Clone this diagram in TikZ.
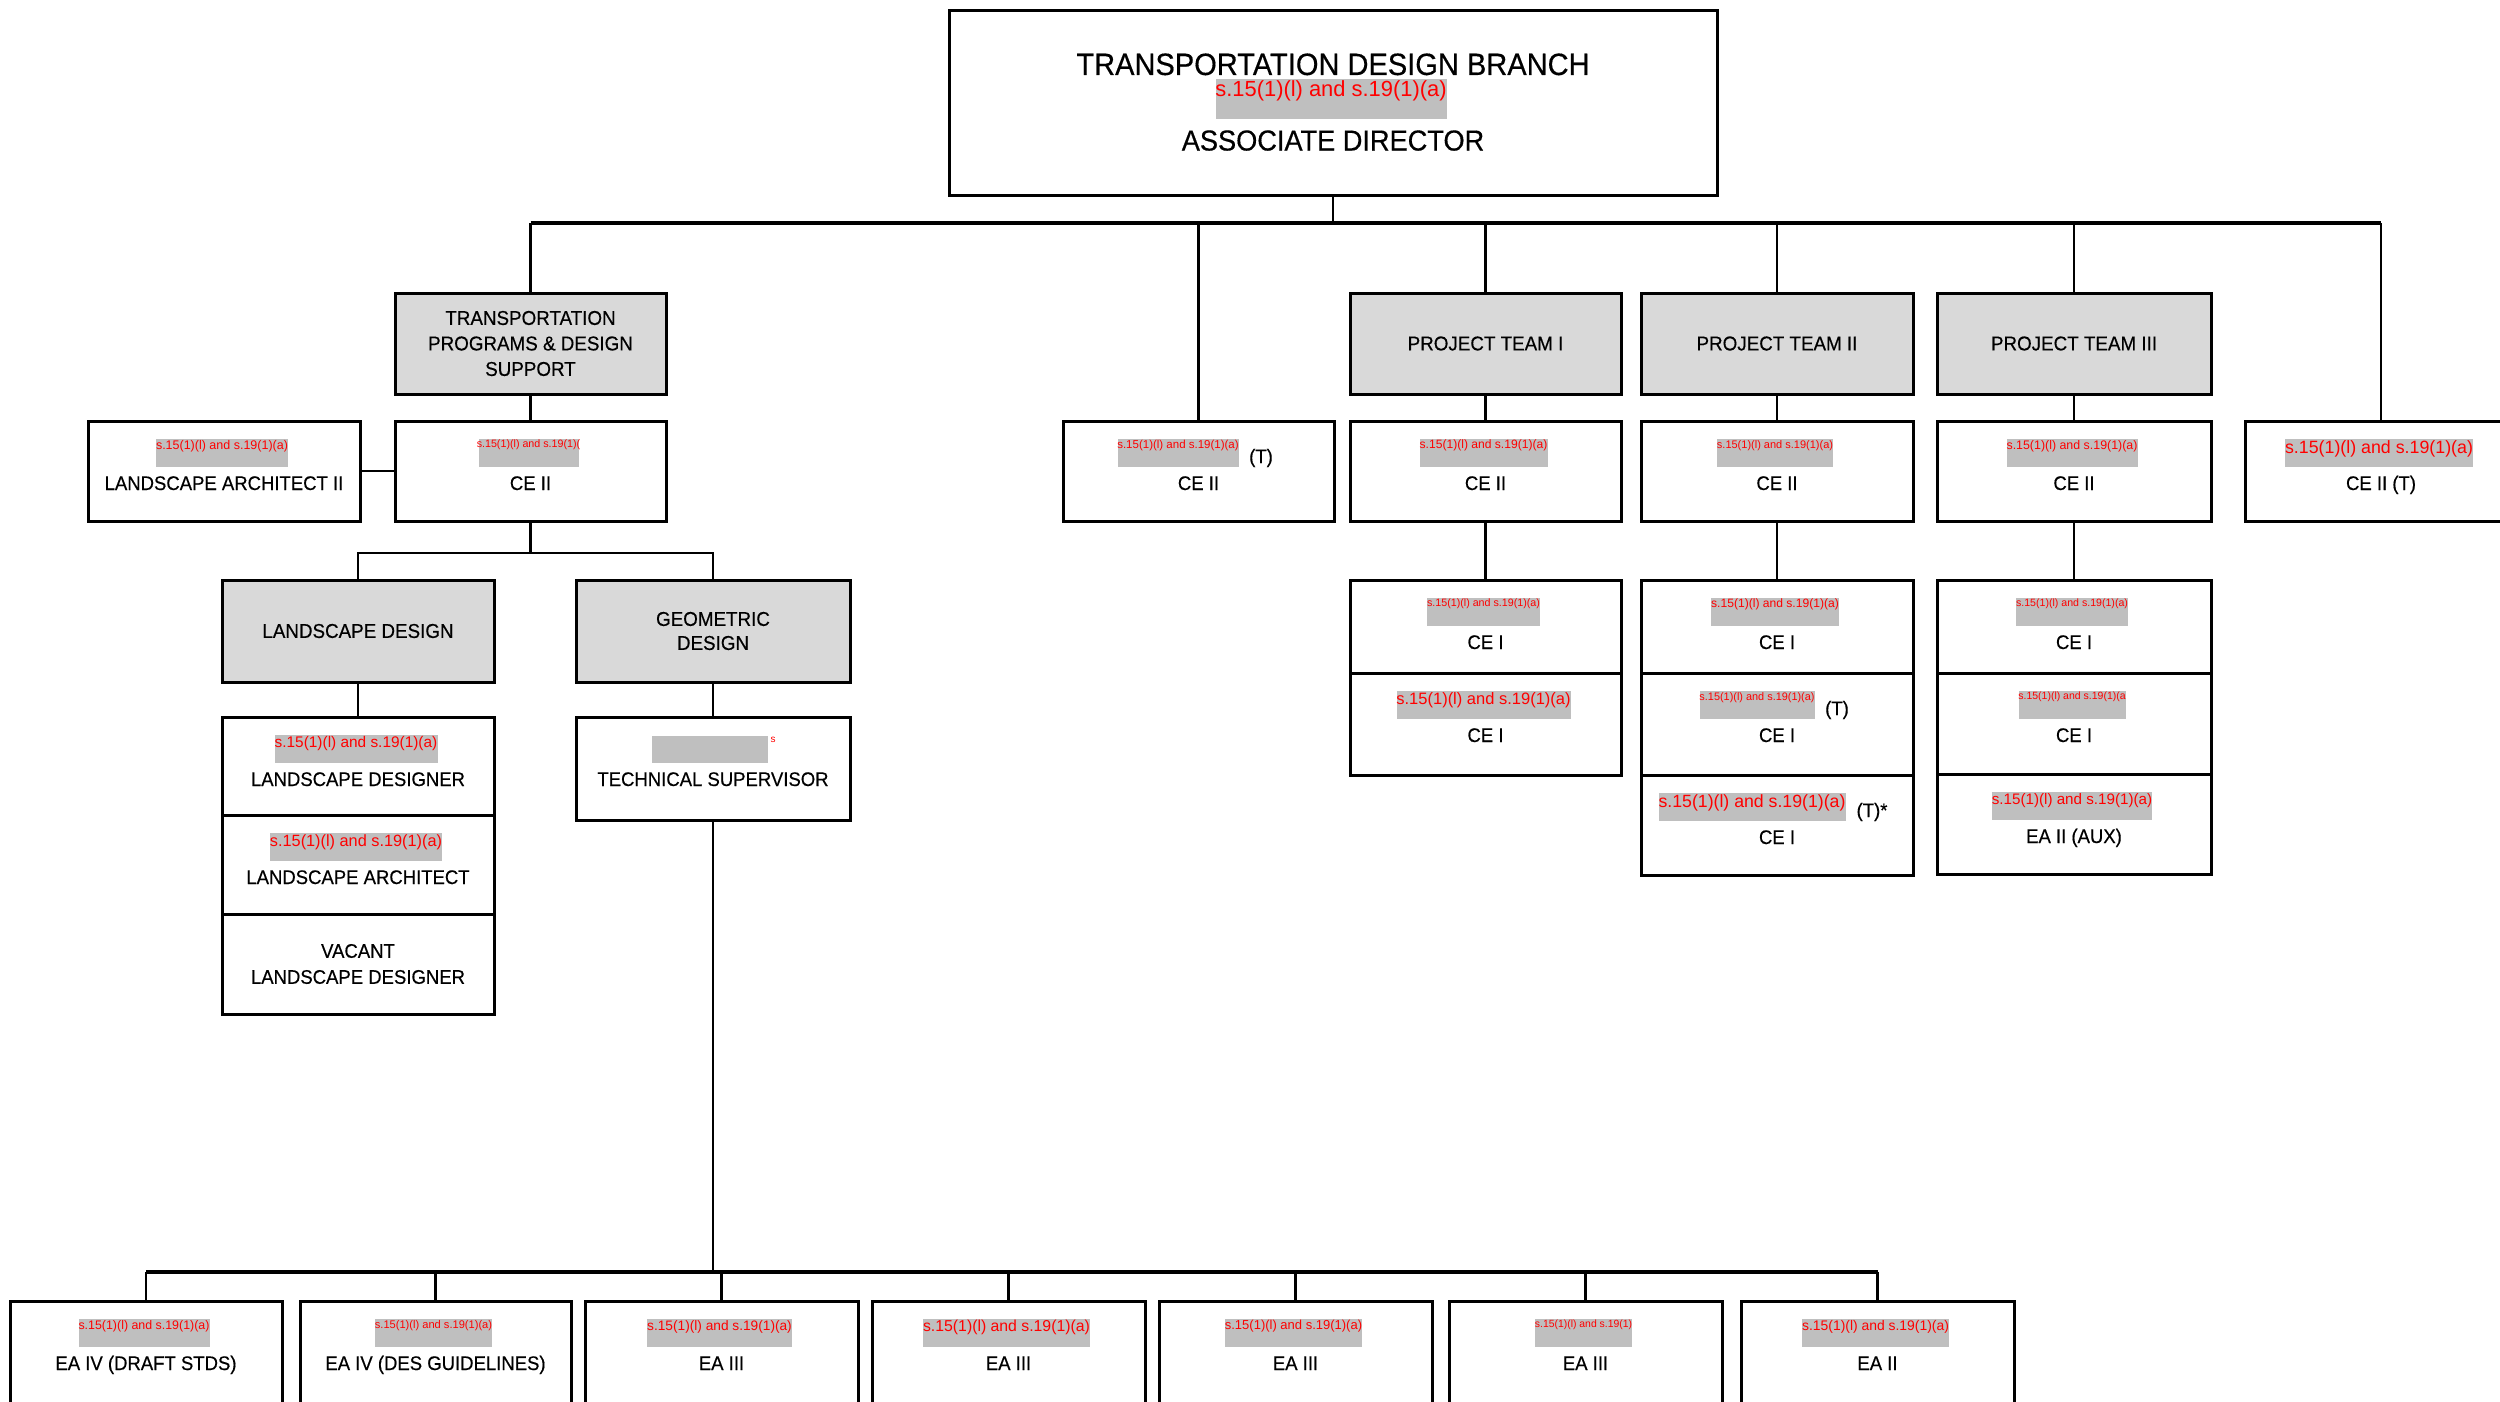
\documentclass[tikz,border=0pt]{standalone}
\usepackage{fontspec}
\setmainfont{Liberation Sans}[FakeStretch=0.94,FakeBold=0.4]
\newfontfamily\redfont{Liberation Sans}
\definecolor{hdrgray}{HTML}{D9D9D9}
\definecolor{redgray}{HTML}{BFBFBF}
\definecolor{redtext}{HTML}{FF0000}
\tikzset{
  box/.style={draw, line width=3pt, fill=white, inner sep=0pt, outer sep=0pt},
  hdr/.style={box, fill=hdrgray},
  conn/.style={line width=2.6pt},
  bus/.style={line width=4pt},
  lbl/.style={inner sep=0pt, font=\fontsize{19.7}{22}\selectfont},
  hdrtxt/.style={inner sep=0pt, align=center, font=\fontsize{20}{25.5}\selectfont},
  redbox/.style={fill=redgray, inner sep=0pt, anchor=north},
  redtxt/.style={text=redtext, inner sep=0pt, anchor=north},
}
% #1 style, #2 name, #3 x1, #4 y1, #5 x2, #6 y2
\newcommand\mybox[6]{\node[#1, minimum width={#5-#3}, minimum height={#6-#4}] (#2) at ({(#3+#5)/2},{(#4+#6)/2}) {};}
% #1 name, #2 cx, #3 top, #4 width, #5 height, #6 font size, #7 text
\newcommand\redact[7]{%
  \node[redbox, minimum width=#4, minimum height=#5] (#1) at ({#2},{#3}) {};
  \node[redtxt, font=\redfont\fontsize{#6}{#6}\selectfont] (#1t) at ([yshift=-1pt]#1.north) {#7};}
% #1 name, #2 cx, #3 top, #4 grey width, #5 font size, #6 red text, #7 label
\newcommand\cell[7]{%
  \redact{#1r}{#2-2}{#3+18}{#4}{28}{#5}{#6}
  \node[lbl, anchor=base] (#1l) at ({#2},{#3+69}) {#7};}
\newcommand\rdfull{s.15(1)(l) and s.19(1)(a)}
\begin{document}
\begin{tikzpicture}[x=1pt,y=-1pt]
\useasboundingbox (0,0) rectangle (2500,1402);
\clip (0,0) rectangle (2500,1402);
\fill[white] (0,0) rectangle (2500,1402);

% ---------- top box ----------
\mybox{box}{dir}{949}{11}{1717}{195}
\node[inner sep=0pt, anchor=base, font=\fontsize{30.9}{30.9}\selectfont] (dirtitle) at (1333,75) {TRANSPORTATION DESIGN BRANCH};
\redact{dirr}{1331}{79}{231}{40}{21.9}{\rdfull}
\node[inner sep=0pt, anchor=base, font=\fontsize{28.9}{28.9}\selectfont] (dirrole) at (1333,150.5) {ASSOCIATE DIRECTOR};

% ---------- level 1 ----------
\mybox{hdr}{tpds}{395}{293}{666}{394}
\node[hdrtxt] (tpdst) at (tpds) {TRANSPORTATION\\PROGRAMS \& DESIGN\\SUPPORT};
\mybox{hdr}{pt1}{1350}{293}{1621}{394}
\node[hdrtxt] (pt1t) at (pt1) {PROJECT TEAM I};
\mybox{hdr}{pt2}{1641}{293}{1913}{394}
\node[hdrtxt] (pt2t) at (pt2) {PROJECT TEAM II};
\mybox{hdr}{pt3}{1937}{293}{2211}{394}
\node[hdrtxt] (pt3t) at (pt3) {PROJECT TEAM III};

% ---------- row 2 ----------
\mybox{box}{la2}{88}{421}{360}{521}
\cell{la2}{224}{421}{132}{12.5}{\rdfull}{LANDSCAPE ARCHITECT II}
\mybox{box}{ce2a}{395}{421}{666}{521}
\cell{ce2a}{530.5}{421}{100}{10.7}{s.15(1)(l) and s.19(1)(}{CE II}
\mybox{box}{ce2t}{1063}{421}{1334}{521}
\redact{ce2tr}{1178}{439}{121}{28}{11.5}{\rdfull}
\node[lbl] (ce2tT) at (1261,458) {(T)};
\node[lbl, anchor=base] (ce2tl) at (1198.5,490) {CE II};
\mybox{box}{ce2p1}{1350}{421}{1621}{521}
\cell{ce2p1}{1485.5}{421}{128}{12.1}{\rdfull}{CE II}
\mybox{box}{ce2p2}{1641}{421}{1913}{521}
\cell{ce2p2}{1777}{421}{116}{11}{\rdfull}{CE II}
\mybox{box}{ce2p3}{1937}{421}{2211}{521}
\cell{ce2p3}{2074}{421}{131}{12.4}{\rdfull}{CE II}
\mybox{box}{ce2r}{2245}{421}{2517}{521}
\cell{ce2r}{2381}{421}{188}{17.8}{\rdfull}{CE II (T)}

% ---------- landscape / geometric ----------
\mybox{hdr}{ld}{222}{580}{494}{682}
\node[hdrtxt] (ldt) at (ld) {LANDSCAPE DESIGN};
\mybox{hdr}{gd}{576}{580}{850}{682}
\node[hdrtxt, font=\fontsize{20}{24}\selectfont] (gdt) at (gd) {GEOMETRIC\\DESIGN};

\mybox{box}{ls1}{222}{717}{494}{815}
\cell{ls1}{358}{717}{163}{15.4}{\rdfull}{LANDSCAPE DESIGNER}
\mybox{box}{ls2}{222}{815}{494}{914}
\cell{ls2}{358}{815}{172}{16.3}{\rdfull}{LANDSCAPE ARCHITECT}
\mybox{box}{ls3}{222}{914}{494}{1014}
\node[lbl, align=center, font=\fontsize{19.7}{26}\selectfont] (ls3t) at (ls3) {VACANT\\LANDSCAPE DESIGNER};

\mybox{box}{ts}{576}{717}{850}{820}
\node[redbox, minimum width=116, minimum height=27] (tsr) at (710,736) {};
\node[redtxt, font=\redfont\fontsize{10}{10}\selectfont] (tsrs) at (773,737) {s};
\node[lbl, anchor=base] (tsl) at (713,786) {TECHNICAL SUPERVISOR};

% ---------- project team stacks ----------
\mybox{box}{p1a}{1350}{580}{1621}{673}
\cell{p1a}{1485.5}{580}{113}{10.7}{\rdfull}{CE I}
\mybox{box}{p1b}{1350}{673}{1621}{775}
\cell{p1b}{1485.5}{673}{174}{16.5}{\rdfull}{CE I}

\mybox{box}{p2a}{1641}{580}{1913}{673}
\cell{p2a}{1777}{580}{128}{12.1}{\rdfull}{CE I}
\mybox{box}{p2b}{1641}{673}{1913}{775}
\redact{p2br}{1757}{691}{115}{28}{10.9}{\rdfull}
\node[lbl] (p2bT) at (1837,710) {(T)};
\node[lbl, anchor=base] (p2bl) at (1777,742) {CE I};
\mybox{box}{p2c}{1641}{775}{1913}{875}
\redact{p2cr}{1752}{793}{187}{28}{17.7}{\rdfull}
\node[lbl] (p2cT) at (1872,812) {(T)*};
\node[lbl, anchor=base] (p2cl) at (1777,844) {CE I};

\mybox{box}{p3a}{1937}{580}{2211}{673}
\cell{p3a}{2074}{580}{112}{10.6}{\rdfull}{CE I}
\mybox{box}{p3b}{1937}{673}{2211}{774}
\cell{p3b}{2074}{673}{107}{10.5}{s.15(1)(l) and s.19(1)(a}{CE I}
\mybox{box}{p3c}{1937}{774}{2211}{874}
\cell{p3c}{2074}{774}{160}{15.2}{\rdfull}{EA II (AUX)}

% ---------- bottom row ----------
\mybox{box}{e1}{10}{1301}{282}{1431}
\cell{e1}{146}{1301}{131}{12.4}{\rdfull}{EA IV (DRAFT STDS)}
\mybox{box}{e2}{300}{1301}{571}{1431}
\cell{e2}{435.5}{1301}{117}{11.1}{\rdfull}{EA IV (DES GUIDELINES)}
\mybox{box}{e3}{585}{1301}{858}{1431}
\cell{e3}{721.5}{1301}{145}{13.7}{\rdfull}{EA III}
\mybox{box}{e4}{872}{1301}{1145}{1431}
\cell{e4}{1008.5}{1301}{167}{15.8}{\rdfull}{EA III}
\mybox{box}{e5}{1159}{1301}{1432}{1431}
\cell{e5}{1295.5}{1301}{137}{13}{\rdfull}{EA III}
\mybox{box}{e6}{1449}{1301}{1722}{1431}
\cell{e6}{1585.5}{1301}{97}{10.4}{s.15(1)(l) and s.19(1)}{EA III}
\mybox{box}{e7}{1741}{1301}{2014}{1431}
\cell{e7}{1877.5}{1301}{147}{13.9}{\rdfull}{EA II}

% ---------- connectors ----------
\coordinate (busL) at (530.5,223);
\coordinate (busR) at (2381,223);
\draw[conn] (dir.south) -- (dir.south |- busL);
\draw[bus] (busL) -- (busR);
\draw[conn] (busL) -- (tpds.north);
\draw[conn] (ce2t.north |- busL) -- (ce2t.north);
\draw[conn] (pt1.north |- busL) -- (pt1.north);
\draw[conn] (pt2.north |- busL) -- (pt2.north);
\draw[conn] (pt3.north |- busL) -- (pt3.north);
\draw[conn] (busR) -- (ce2r.north);

\draw[conn] (tpds.south) -- (ce2a.north);
\draw[conn] (pt1.south) -- (ce2p1.north);
\draw[conn] (pt2.south) -- (ce2p2.north);
\draw[conn] (pt3.south) -- (ce2p3.north);
\draw[conn] (la2.east) -- (ce2a.west);

\coordinate (split) at (530.5,553);
\draw[conn] (ce2a.south) -- (split);
\draw[conn] (ld.north) -- (ld.north |- split) -- (gd.north |- split) -- (gd.north);
\draw[conn] (ld.south) -- (ls1.north);
\draw[conn] (gd.south) -- (ts.north);

\draw[conn] (ce2p1.south) -- (p1a.north);
\draw[conn] (ce2p2.south) -- (p2a.north);
\draw[conn] (ce2p3.south) -- (p3a.north);

\coordinate (bbus) at (713,1272);
\draw[conn] (ts.south) -- (bbus);
\draw[bus] (e1.north |- bbus) -- (e7.north |- bbus);
\foreach \e in {e1,e2,e3,e4,e5,e6,e7} {
  \draw[conn] (\e.north |- bbus) -- (\e.north);
}
\end{tikzpicture}
\end{document}
